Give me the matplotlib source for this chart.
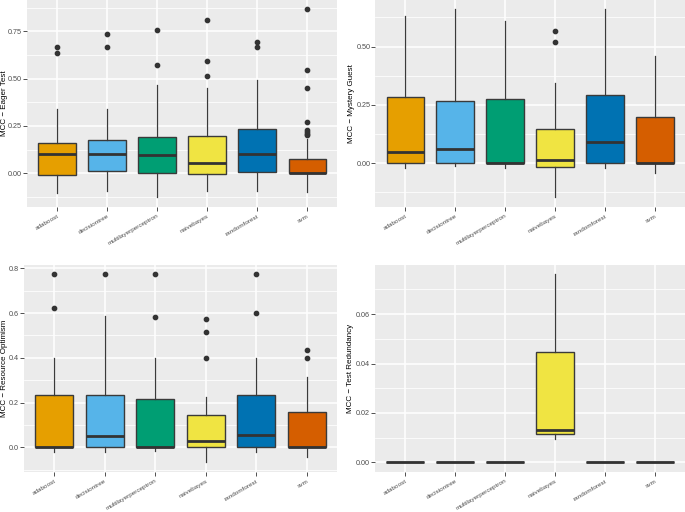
import matplotlib
matplotlib.use("Agg")
import matplotlib.pyplot as plt
from matplotlib.ticker import FixedLocator

categories = ["adaboost", "decisiontree", "multilayerperceptron",
              "naivebayes", "randomforest", "svm"]
colors = ["#E69F00", "#56B4E9", "#009E73", "#F0E442", "#0072B2", "#D55E00"]

# Eager Test
eager_whislo = [-0.104, -0.092, -0.125, -0.092, -0.092, -0.100]
eager_q1 = [-0.011, 0.014, 0.000, -0.002, 0.005, 0.000]
eager_med = [0.104, 0.102, 0.099, 0.056, 0.100, 0.000]
eager_q3 = [0.160, 0.176, 0.190, 0.197, 0.232, 0.074]
eager_whishi = [0.338, 0.338, 0.468, 0.452, 0.491, 0.183]
eager_out = [[0.669, 0.636], [0.734, 0.669], [0.757, 0.574],
             [0.810, 0.592, 0.512], [0.694, 0.669],
             [0.868, 0.546, 0.451, 0.273, 0.227, 0.217, 0.206, 0.200]]

# Mystery Guest
mystery_whislo = [-0.023, -0.013, -0.023, -0.144, -0.020, -0.041]
mystery_q1 = [0.0, 0.0, 0.0, -0.016, 0.0, 0.0]
mystery_med = [0.049, 0.059, 0.0, 0.014, 0.089, 0.0]
mystery_q3 = [0.284, 0.266, 0.277, 0.147, 0.293, 0.199]
mystery_whishi = [0.633, 0.660, 0.611, 0.344, 0.660, 0.459]
mystery_out = [[], [], [], [0.567, 0.519], [], []]

# Resource Optimism
resource_whislo = [-0.022, -0.022, -0.015, -0.067, -0.022, -0.042]
resource_q1 = [0.0, 0.0, 0.0, 0.0, 0.0, 0.0]
resource_med = [0.0, 0.051, 0.0, 0.028, 0.055, 0.0]
resource_q3 = [0.236, 0.236, 0.215, 0.145, 0.236, 0.157]
resource_whishi = [0.399, 0.588, 0.399, 0.225, 0.399, 0.316]
resource_out = [[0.773, 0.624], [0.773], [0.773, 0.584],
                [0.572, 0.515, 0.401], [0.773, 0.600], [0.436, 0.401]]

# Test Redundancy
redund_whislo = [0.0, 0.0, 0.0, 0.0096, 0.0, 0.0]
redund_q1 = [0.0, 0.0, 0.0, 0.0114, 0.0, 0.0]
redund_med = [0.0, 0.0, 0.0, 0.0131, 0.0, 0.0]
redund_q3 = [0.0, 0.0, 0.0, 0.0446, 0.0, 0.0]
redund_whishi = [0.0, 0.0, 0.0, 0.0761, 0.0, 0.0]
redund_out = [[], [], [], [], [], []]

panels = [
    dict(title="MCC \u2212 Eager Test", lo=eager_whislo, q1=eager_q1, med=eager_med,
         q3=eager_q3, hi=eager_whishi, out=eager_out,
         ylim=(-0.176, 0.915), major=[0, 0.25, 0.5, 0.75],
         labels=["0.00", "0.25", "0.50", "0.75"],
         minor=[-0.125, 0.125, 0.375, 0.625, 0.875],
         pos=(27, 0, 337.3, 206.7), titlex=4.6),
    dict(title="MCC \u2212 Mystery Guest", lo=mystery_whislo, q1=mystery_q1, med=mystery_med,
         q3=mystery_q3, hi=mystery_whishi, out=mystery_out,
         ylim=(-0.187, 0.700), major=[0, 0.25, 0.5],
         labels=["0.00", "0.25", "0.50"],
         minor=[-0.125, 0.125, 0.375, 0.625],
         pos=(375.3, 0, 685, 206.7), titlex=351.2),
    dict(title="MCC \u2212 Resource Optimism", lo=resource_whislo, q1=resource_q1,
         med=resource_med, q3=resource_q3, hi=resource_whishi, out=resource_out,
         ylim=(-0.109, 0.815), major=[0, 0.2, 0.4, 0.6, 0.8],
         labels=["0.0", "0.2", "0.4", "0.6", "0.8"],
         minor=[-0.1, 0.1, 0.3, 0.5, 0.7],
         pos=(24, 265, 337, 471.7), titlex=4.4),
    dict(title="MCC \u2212 Test Redundancy", lo=redund_whislo, q1=redund_q1, med=redund_med,
         q3=redund_q3, hi=redund_whishi, out=redund_out,
         ylim=(-0.0038, 0.0799), major=[0, 0.02, 0.04, 0.06],
         labels=["0.00", "0.02", "0.04", "0.06"],
         minor=[0.01, 0.03, 0.05, 0.07],
         pos=(375, 265, 685, 471.7), titlex=351.0),
]

W, H = 685, 512
fig = plt.figure(figsize=(W / 100, H / 100), dpi=100)
fig.patch.set_facecolor("white")
plt.rcParams["font.family"] = ["Liberation Sans", "DejaVu Sans"]

for p in panels:
    x0, y0, x1, y1 = p["pos"]
    ax = fig.add_axes([x0 / W, (H - y1) / H, (x1 - x0) / W, (y1 - y0) / H])
    ax.set_facecolor("#EBEBEB")
    for s in ax.spines.values():
        s.set_visible(False)
    stats = []
    for i, c in enumerate(categories):
        stats.append(dict(med=p["med"][i], q1=p["q1"][i], q3=p["q3"][i],
                          whislo=p["lo"][i], whishi=p["hi"][i],
                          fliers=p["out"][i], label=c))
    xs = list(range(1, len(categories) + 1))
    bp = ax.bxp(stats, positions=xs, widths=0.75, patch_artist=True,
                showfliers=True, zorder=3,
                boxprops=dict(edgecolor="#3A3A3A", linewidth=1.0),
                medianprops=dict(color="#333333", linewidth=2.0, solid_capstyle="butt"),
                whiskerprops=dict(color="#3A3A3A", linewidth=0.9),
                capprops=dict(linewidth=0),
                flierprops=dict(marker="o", markersize=3.1, markerfacecolor="#333333",
                                markeredgecolor="#333333", linestyle="none"))
    for patch, col in zip(bp["boxes"], colors):
        patch.set_facecolor(col)
    ax.set_xlim(0.4, 6.6)
    ax.set_ylim(*p["ylim"])
    ax.yaxis.set_major_locator(FixedLocator(p["major"]))
    ax.set_yticklabels(p["labels"])
    ax.yaxis.set_minor_locator(FixedLocator(p["minor"]))
    ax.set_xticks(xs)
    ax.set_xticklabels(categories, rotation=30, ha="right", rotation_mode="anchor",
                       fontsize=4.6, color="#4D4D4D")
    ax.tick_params(axis="y", which="major", labelsize=5.2, labelcolor="#4D4D4D",
                   color="#333333", length=2.7, width=0.6, pad=0.8)
    ax.tick_params(axis="x", which="major", color="#333333", length=2.7, width=0.6, pad=2)
    ax.tick_params(axis="y", which="minor", length=0)
    ax.grid(True, which="major", color="white", linewidth=1.1, zorder=0)
    ax.grid(True, which="minor", axis="y", color="white", linewidth=0.55, zorder=0)
    ax.set_axisbelow(True)
    fig.text(p["titlex"] / W, 1 - ((y0 + y1) / 2) / H, p["title"], rotation=90,
             ha="center", va="center", fontsize=5.8, color="black")

fig.savefig("out.png", dpi=100, facecolor="white")
